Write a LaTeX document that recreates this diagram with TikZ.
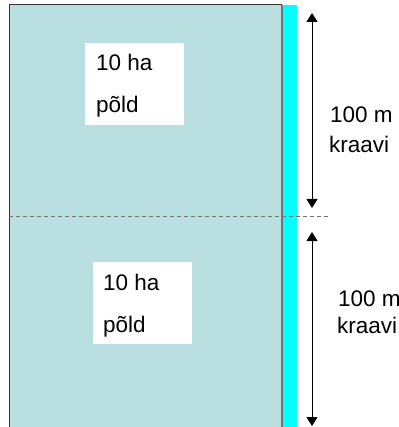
\documentclass[tikz,border=0pt]{standalone}
\usepackage{fontspec}
\setmainfont{Liberation Sans}
\usetikzlibrary{arrows.meta}
\definecolor{field}{HTML}{BADFE1}
\definecolor{ditch}{HTML}{00FFFF}
\tikzset{
  lbl/.style={anchor=base west, inner sep=0pt, font=\fontsize{22.5}{27}\selectfont},
  whitebox/.style={fill=white, draw=none, inner sep=0pt, anchor=north west},
  dim/.style={line width=0.9pt, {Triangle[width=11pt,length=9pt]}-{Triangle[width=11pt,length=9pt]}},
}
\begin{document}
\begin{tikzpicture}[x=1pt,y=-1pt]
\useasboundingbox (0,0) rectangle (398,427);
\clip (0,0) rectangle (398,427);
% field
\fill[field] (9.5,5) rectangle (282,440);
\fill[ditch] (282.5,5) rectangle (297,440);
\draw[black!80, line width=1pt] (9.5,440) -- (9.5,5) -- (282,5);
\draw[black!55, line width=1.2pt] (282,5) -- (282,440);
% dashed divider
\coordinate (dL) at (9,216.5);
\coordinate (dR) at (328,216.5);
\draw[black!55, line width=0.9pt, dash pattern=on 4pt off 3pt] (dL) -- (dR);
% white boxes
\node[whitebox, minimum width=99pt, minimum height=82pt] (b1) at (85,43) {};
\node[whitebox, minimum width=99pt, minimum height=82pt] (b2) at (93,262) {};
\node[lbl] (t1a) at (96,71) {10 ha};
\node[lbl] (t1b) at (96,113) {põld};
\node[lbl] (t2a) at (103,290) {10 ha};
\node[lbl] (t2b) at (103,332) {põld};
% arrows
\coordinate (a1t) at (312,13);
\coordinate (a1b) at (312,208);
\coordinate (a2t) at (312,232);
\coordinate (a2b) at (312,426);
\draw[dim] (a1t) -- (a1b);
\draw[dim] (a2t) -- (a2b);
% labels
\node[lbl] (l1a) at (330,123) {100 m};
\node[lbl] (l1b) at (329,153) {kraavi};
\node[lbl] (l2a) at (338,306) {100 m};
\node[lbl] (l2b) at (337,333) {kraavi};
\end{tikzpicture}
\end{document}
